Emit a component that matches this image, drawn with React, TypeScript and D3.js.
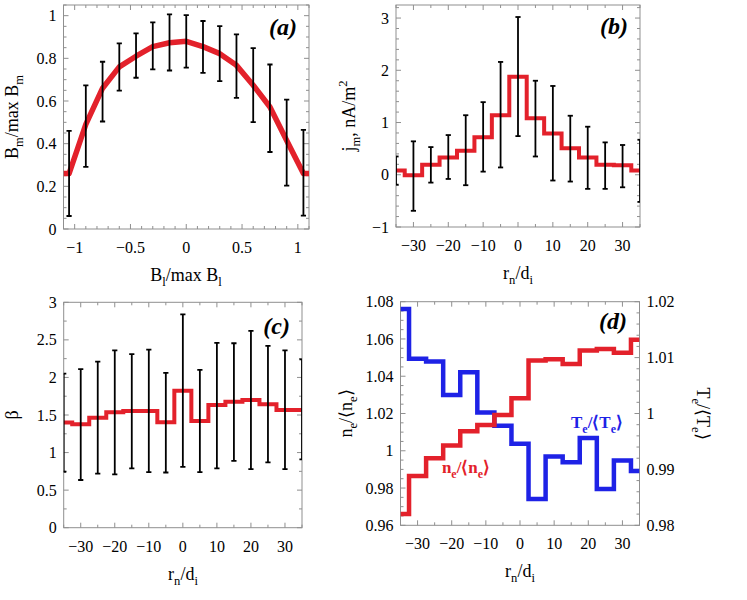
import React from 'react'
import * as d3 from 'd3'

const RED = '#e3212b'
const BLUE = '#1e22e6'
const FRAME = '#8f8f8f'
const SERIF = '"Liberation Serif", "Times New Roman", Times, serif'

// (a) Bm/max Bm against Bl/max Bl
const blBins = [-1.05, -0.9, -0.75, -0.6, -0.45, -0.3, -0.15, 0, 0.15, 0.3, 0.45, 0.6, 0.75, 0.9, 1.05]
const bmMean = [0.26, 0.49, 0.66, 0.76, 0.81, 0.855, 0.873, 0.88, 0.855, 0.822, 0.767, 0.674, 0.572, 0.415, 0.26]
const bmLow = [0.061, 0.291, 0.504, 0.649, 0.709, 0.748, 0.743, 0.756, 0.732, 0.693, 0.615, 0.501, 0.361, 0.203, 0.063]
const bmHigh = [0.46, 0.673, 0.784, 0.87, 0.917, 0.969, 1.006, 1.003, 0.975, 0.951, 0.912, 0.848, 0.771, 0.606, 0.465]

// (b)-(d) bins in rn/di
const rBins = [-35, -30, -25, -20, -15, -10, -5, 0, 5, 10, 15, 20, 25, 30, 35]

// (b) jm, nA/m^2
const jmMean = [0.08, -0.01, 0.19, 0.33, 0.46, 0.72, 1.14, 1.875, 1.08, 0.79, 0.51, 0.33, 0.19, 0.18, 0.08]
const jmLow = [-0.19, -0.69, -0.15, -0.08, -0.2, 0.06, 0.14, 0.74, 0.35, -0.11, -0.13, -0.27, -0.27, -0.24, -0.52]
const jmHigh = [0.35, 0.64, 0.53, 0.76, 1.14, 1.39, 2.16, 3.02, 1.8, 1.7, 1.13, 0.92, 0.62, 0.57, 0.67]

// (c) beta
const betaMean = [1.4, 1.376, 1.465, 1.536, 1.554, 1.554, 1.403, 1.824, 1.421, 1.634, 1.678, 1.7, 1.643, 1.567, 1.567]
const betaLow = [0.745, 0.635, 0.72, 0.71, 0.79, 0.74, 0.735, 0.81, 0.74, 0.79, 0.89, 0.78, 0.87, 0.78, 0.91]
const betaHigh = [2.05, 2.11, 2.21, 2.36, 2.31, 2.37, 2.06, 2.84, 2.1, 2.46, 2.455, 2.62, 2.42, 2.36, 2.24]

// (d) ne/<ne> (left axis) and Te/<Te> (right axis)
const neRatio = [0.966, 0.9865, 0.996, 1.0028, 1.0105, 1.0138, 1.0192, 1.0282, 1.0484, 1.0491, 1.0466, 1.0538, 1.0546, 1.0526, 1.0596]
const teRatio = [1.0187, 1.0098, 1.0093, 1.0033, 1.0074, 1.0002, 0.9978, 0.9946, 0.9847, 0.9923, 0.9913, 0.9956, 0.9865, 0.9916, 0.9897]

type Scale = d3.ScaleLinear<number, number>
type Part = [string, ('sub' | 'sup')?]

const fmt = d3.format('~g')

function tickValues(domain: number[], step: number) {
  const out: number[] = []
  const k0 = Math.ceil(domain[0] / step - 1e-6)
  const k1 = Math.floor(domain[1] / step + 1e-6)
  for (let k = k0; k <= k1; k++) out.push(+(k * step).toFixed(10))
  return out
}

const onStep = (v: number, step: number) => Math.abs(v / step - Math.round(v / step)) < 1e-6

// text with sub/superscripts
function Rich({ parts, size, ...rest }: { parts: Part[]; size: number; [k: string]: any }) {
  let shift = 0
  return (
    <text fontFamily={SERIF} fontSize={size} textAnchor="middle" {...rest}>
      {parts.map(([t, mode], i) => {
        const target = mode === 'sub' ? size * 0.28 : mode === 'sup' ? -size * 0.42 : 0
        const dy = target - shift
        shift = target
        return (
          <tspan key={i} dy={dy} fontSize={mode ? size * 0.7 : size}>
            {t}
          </tspan>
        )
      })}
    </text>
  )
}

interface FrameProps {
  x: Scale
  y: Scale
  y2?: Scale
  xStep: [number, number]
  yStep: [number, number]
  y2Step?: [number, number]
}

const tickText = { fontFamily: SERIF, fontSize: 16, fill: '#000' }

// Mathematica-like frame: ticks pointing inwards on all four sides
function Frame({ x, y, y2, xStep, yStep, y2Step }: FrameProps) {
  const [l, r] = x.range()
  const [b, t] = y.range()
  const xs = tickValues(x.domain(), xStep[1])
  const ys = tickValues(y.domain(), yStep[1])
  const right = y2 ?? y
  const rStep = y2Step ?? yStep
  const rs = tickValues(right.domain(), rStep[1])
  const len = (major: boolean) => (major ? 5 : 3)
  return (
    <g>
      <g stroke={FRAME} strokeWidth={1}>
        <rect x={l} y={t} width={r - l} height={b - t} fill="none" />
        {xs.map((v, i) => {
          const m = onStep(v, xStep[0])
          return (
            <g key={'x' + i}>
              <line x1={x(v)} x2={x(v)} y1={b} y2={b - len(m)} />
              <line x1={x(v)} x2={x(v)} y1={t} y2={t + len(m)} />
            </g>
          )
        })}
        {ys.map((v, i) => {
          const m = onStep(v, yStep[0])
          return <line key={'y' + i} x1={l} x2={l + len(m)} y1={y(v)} y2={y(v)} />
        })}
        {rs.map((v, i) => {
          const m = onStep(v, rStep[0])
          return <line key={'r' + i} x1={r} x2={r - len(m)} y1={right(v)} y2={right(v)} />
        })}
      </g>
      {xs.filter(v => onStep(v, xStep[0])).map((v, i) => (
        <text key={'xl' + i} {...tickText} x={x(v)} y={b + 24} textAnchor="middle">{fmt(v)}</text>
      ))}
      {ys.filter(v => onStep(v, yStep[0])).map((v, i) => (
        <text key={'yl' + i} {...tickText} x={l - 7} y={y(v)} dy="0.35em" textAnchor="end">{fmt(v)}</text>
      ))}
      {y2 && rs.filter(v => onStep(v, rStep[0])).map((v, i) => (
        <text key={'rl' + i} {...tickText} x={r + 7} y={y2(v)} dy="0.35em" textAnchor="start">{fmt(v)}</text>
      ))}
    </g>
  )
}

function ErrorBars({ x, y, xs, lo, hi }: { x: Scale; y: Scale; xs: number[]; lo: number[]; hi: number[] }) {
  return (
    <g stroke="#000" strokeWidth={1.8}>
      {xs.map((v, i) => (
        <g key={i}>
          <line x1={x(v)} x2={x(v)} y1={y(lo[i])} y2={y(hi[i])} />
          <line x1={x(v) - 2.6} x2={x(v) + 2.6} y1={y(lo[i])} y2={y(lo[i])} />
          <line x1={x(v) - 2.6} x2={x(v) + 2.6} y1={y(hi[i])} y2={y(hi[i])} />
        </g>
      ))}
    </g>
  )
}

function Clip({ id, x, y }: { id: string; x: Scale; y: Scale }) {
  const [l, r] = x.range()
  const [b, t] = y.range()
  return (
    <clipPath id={id}>
      <rect x={l} y={t} width={r - l} height={b - t} />
    </clipPath>
  )
}

const rnLabel: Part[] = [['r'], ['n', 'sub'], ['/d'], ['i', 'sub']]
const panelText = { fontFamily: SERIF, fontSize: 24, fontWeight: 'bold', fontStyle: 'italic', textAnchor: 'end' } as const

export default function App() {
  // (a)
  const xA = d3.scaleLinear([-1.1, 1.1], [63.5, 309])
  const yA = d3.scaleLinear([0, 1.05], [229, 5])
  const ptsA: [number, number][] = blBins.map((v, i) => [v, bmMean[i]])
  const lineA = d3.line<[number, number]>().x(d => xA(d[0])).y(d => yA(d[1]))
  const extA: [number, number][] = [
    [xA.domain()[0], bmMean[0]],
    ...ptsA,
    [xA.domain()[1], bmMean[bmMean.length - 1]],
  ]

  // (b)
  const xB = d3.scaleLinear([-35, 35], [396, 640])
  const yB = d3.scaleLinear([-1, 3.25], [227, 5])
  // (c)
  const xC = d3.scaleLinear([-35, 35], [63.7, 302])
  const yC = d3.scaleLinear([0, 3], [527.7, 302.3])
  // (d)
  const xD = d3.scaleLinear([-35, 35], [400.5, 639.5])
  const yD = d3.scaleLinear([0.96, 1.08], [525.3, 301.7])
  const yD2 = d3.scaleLinear([0.98, 1.02], [525.3, 301.7])

  const step = (x: Scale, y: Scale, vals: number[]) =>
    d3.line<number>().x((_, i) => x(rBins[i])).y(d => y(d)).curve(d3.curveStep)(vals) ?? ''

  return (
    <svg width={747} height={600} style={{ position: 'absolute', left: 0, top: 0, background: '#fff' }}>
      <defs>
        <Clip id="clipA" x={xA} y={yA} />
        <Clip id="clipB" x={xB} y={yB} />
        <Clip id="clipC" x={xC} y={yC} />
        <Clip id="clipD" x={xD} y={yD} />
      </defs>

      {/* (a) */}
      <Frame x={xA} y={yA} xStep={[0.5, 0.1]} yStep={[0.2, 0.05]} />
      <g clipPath="url(#clipA)">
        <path d={lineA(extA) ?? ''} fill="none" stroke={RED} strokeWidth={5.5} strokeLinejoin="round" />
        <ErrorBars x={xA} y={yA} xs={blBins} lo={bmLow} hi={bmHigh} />
      </g>
      <text {...panelText} x={297} y={35}>(a)</text>
      <Rich parts={[['B'], ['m', 'sub'], ['/max B'], ['m', 'sub']]} size={18} transform="translate(17.5,117) rotate(-90)" />
      <Rich parts={[['B'], ['l', 'sub'], ['/max B'], ['l', 'sub']]} size={18} x={186} y={281} />

      {/* (b) */}
      <Frame x={xB} y={yB} xStep={[10, 5]} yStep={[1, 0.2]} />
      <g clipPath="url(#clipB)">
        <path d={step(xB, yB, jmMean)} fill="none" stroke={RED} strokeWidth={4} />
        <ErrorBars x={xB} y={yB} xs={rBins} lo={jmLow} hi={jmHigh} />
      </g>
      <text {...panelText} x={628} y={34}>(b)</text>
      <Rich parts={[['j'], ['m', 'sub'], [', nA/m'], ['2', 'sup']]} size={18} transform="translate(355,116) rotate(-90)" />
      <Rich parts={rnLabel} size={18} x={518} y={279} />

      {/* (c) */}
      <Frame x={xC} y={yC} xStep={[10, 5]} yStep={[0.5, 0.25]} />
      <g clipPath="url(#clipC)">
        <path d={step(xC, yC, betaMean)} fill="none" stroke={RED} strokeWidth={4} />
        <ErrorBars x={xC} y={yC} xs={rBins} lo={betaLow} hi={betaHigh} />
      </g>
      <text {...panelText} x={290} y={334}>(c)</text>
      <Rich parts={[['β']]} size={18} transform="translate(18,415) rotate(-90)" />
      <Rich parts={rnLabel} size={18} x={183} y={580} />

      {/* (d) */}
      <Frame x={xD} y={yD} y2={yD2} xStep={[10, 5]} yStep={[0.02, 0.005]} y2Step={[0.01, 0.002]} />
      <g clipPath="url(#clipD)">
        <path d={step(xD, yD2, teRatio)} fill="none" stroke={BLUE} strokeWidth={4.5} />
        <path d={step(xD, yD, neRatio)} fill="none" stroke={RED} strokeWidth={4.5} />
      </g>
      <text {...panelText} x={627} y={329}>(d)</text>
      <Rich parts={[['n'], ['e', 'sub'], ['/⟨n'], ['e', 'sub'], ['⟩']]} size={18} transform="translate(352,413.5) rotate(-90)" />
      <Rich parts={[['T'], ['e', 'sub'], ['/⟨T'], ['e', 'sub'], ['⟩']]} size={18} transform="translate(697,413.5) rotate(90)" />
      <Rich parts={rnLabel} size={18} x={520} y={577} />
      <Rich parts={[['n'], ['e', 'sub'], ['/⟨n'], ['e', 'sub'], ['⟩']]} size={17} x={466} y={473} fill={RED} fontWeight="bold" />
      <Rich parts={[['T'], ['e', 'sub'], ['/⟨T'], ['e', 'sub'], ['⟩']]} size={17} x={597} y={428} fill={BLUE} fontWeight="bold" />
    </svg>
  )
}
